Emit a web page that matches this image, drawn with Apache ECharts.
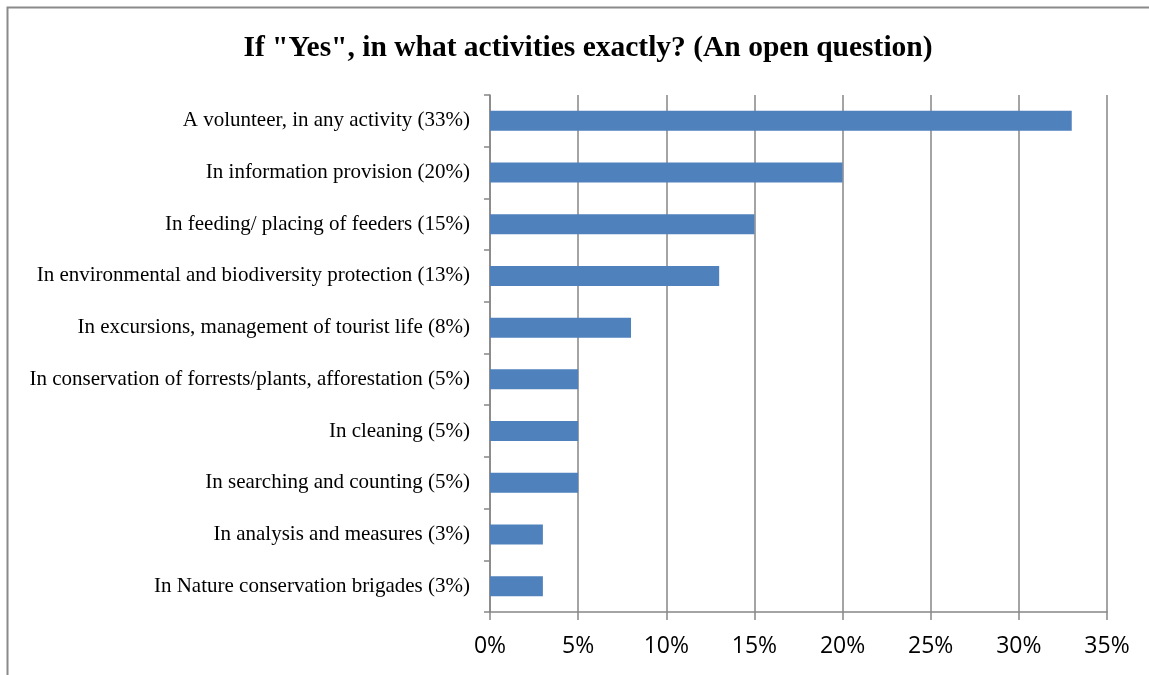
<!DOCTYPE html>
<html>
<head>
<meta charset="utf-8">
<script src="https://cdn.jsdelivr.net/npm/echarts@6/dist/echarts.min.js"></script>
<style>
  html, body { margin: 0; padding: 0; background: #fff; }
  #chart { width: 1149px; height: 675px; }
</style>
</head>
<body>
<div id="chart"></div>
<script>
// Activities, listed top to bottom
const categories = [
  'A volunteer, in any activity (33%)',
  'In information provision (20%)',
  'In feeding/ placing of feeders (15%)',
  'In environmental and biodiversity protection (13%)',
  'In excursions, management of tourist life (8%)',
  'In conservation of forrests/plants, afforestation (5%)',
  'In cleaning (5%)',
  'In searching and counting (5%)',
  'In analysis and measures (3%)',
  'In Nature conservation brigades (3%)'
];
const shares = [33, 20, 15, 13, 8, 5, 5, 5, 3, 3];
const tickLabels = ['0%', '5%', '10%', '15%', '20%', '25%', '30%', '35%'];

const chart = echarts.init(document.getElementById('chart'), null, { renderer: 'canvas' });

chart.setOption({
  animation: false,
  backgroundColor: '#ffffff',
  title: {
    text: 'If "Yes", in what activities exactly? (An open question)',
    left: 583,
    top: 28,
    textAlign: 'center',
    textStyle: {
      fontFamily: '"Liberation Serif", "Times New Roman", serif',
      fontWeight: 'bold',
      fontSize: 29.5,
      color: '#000'
    }
  },
  graphic: [{
    type: 'rect',
    shape: { x: 7.5, y: 7.5, width: 1160, height: 700 },
    style: { fill: 'none', stroke: '#8a8a8a', lineWidth: 2 },
    silent: true,
    z: -1
  }],
  grid: { left: 490, right: 42, top: 95, bottom: 63, containLabel: false },
  xAxis: {
    type: 'value',
    min: 0,
    max: 35,
    interval: 5,
    axisLine: { show: true, lineStyle: { color: '#868686', width: 1.5 } },
    axisTick: { show: true, length: 8, lineStyle: { color: '#868686', width: 1.5 } },
    splitLine: { show: true, lineStyle: { color: '#868686', width: 1.5 } },
    axisLabel: {
      margin: 23,
      fontFamily: '"Open Sans", "Liberation Sans", sans-serif',
      fontSize: 23,
      color: '#000',
      formatter: (v) => tickLabels[Math.round(v / 5)]
    }
  },
  yAxis: {
    type: 'category',
    data: categories,
    inverse: true,
    axisLine: { show: true, lineStyle: { color: '#868686', width: 1.5 } },
    axisTick: { show: true, length: 6, lineStyle: { color: '#868686', width: 1.5 } },
    splitLine: { show: false },
    axisLabel: {
      margin: 20,
      fontFamily: '"Liberation Serif", "Times New Roman", serif',
      fontSize: 21,
      color: '#000'
    }
  },
  series: [{
    type: 'bar',
    data: shares,
    barWidth: 20,
    itemStyle: { color: '#4F81BD' }
  }]
});
</script>
</body>
</html>
